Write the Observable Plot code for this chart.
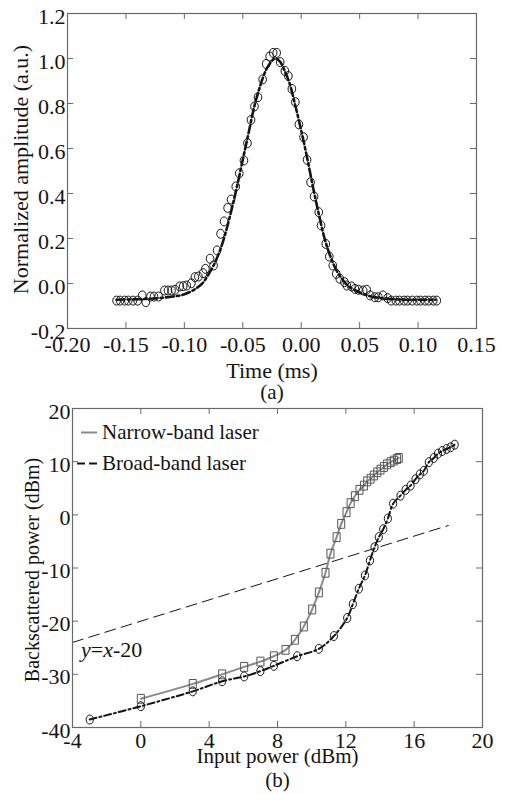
<!DOCTYPE html>
<html><head><meta charset="utf-8">
<script src="https://cdn.jsdelivr.net/npm/d3@7"></script>
<script src="https://cdn.jsdelivr.net/npm/@observablehq/plot@0.6"></script>
<style>
html,body{margin:0;padding:0;background:#fff;}
#chart{width:505px;height:794px;overflow:hidden;background:#fff;}
#chart svg{display:block;font-family:'Liberation Serif','Times New Roman',serif !important;font-size:22px !important;}
</style></head><body><div id="chart"></div>
<script>
// ---------- Panel (a) data ----------
const pulseTime = [-0.158,-0.155,-0.151,-0.148,-0.144,-0.140,-0.136,-0.133,-0.129,-0.126,-0.122,-0.117,-0.114,-0.111,-0.108,-0.104,-0.101,-0.098,-0.094,-0.091,-0.088,-0.084,-0.082,-0.078,-0.075,-0.072,-0.069,-0.066,-0.063,-0.060,-0.056,-0.053,-0.049,-0.046,-0.043,-0.040,-0.037,-0.033,-0.030,-0.027,-0.024,-0.021,-0.018,-0.014,-0.011,-0.008,-0.005,-0.002,0.002,0.005,0.008,0.011,0.015,0.017,0.021,0.024,0.027,0.030,0.033,0.037,0.039,0.043,0.046,0.049,0.053,0.056,0.059,0.063,0.066,0.070,0.074,0.077,0.081,0.084,0.088,0.091,0.095,0.099,0.102,0.106,0.109,0.113,0.116];
const pulseAmp = [-0.076,-0.076,-0.076,-0.076,-0.076,-0.076,-0.053,-0.083,-0.058,-0.058,-0.058,-0.031,-0.031,-0.031,-0.028,-0.013,-0.012,-0.009,0.001,0.028,0.031,0.046,0.065,0.110,0.080,0.147,0.221,0.276,0.336,0.373,0.431,0.490,0.547,0.624,0.727,0.787,0.828,0.907,0.976,1.009,1.025,1.025,0.984,0.945,0.922,0.865,0.806,0.707,0.650,0.550,0.450,0.387,0.317,0.258,0.176,0.120,0.080,0.043,0.021,0.006,-0.009,-0.013,-0.024,-0.028,-0.031,-0.028,-0.053,-0.061,-0.061,-0.053,-0.065,-0.076,-0.076,-0.076,-0.076,-0.076,-0.076,-0.076,-0.076,-0.076,-0.076,-0.076,-0.076];
const fitTime = [-0.158,-0.14,-0.13,-0.12,-0.11,-0.10,-0.09,-0.085,-0.08,-0.075,-0.07,-0.065,-0.06,-0.055,-0.05,-0.045,-0.04,-0.035,-0.03,-0.025,-0.022,-0.018,-0.015,-0.01,-0.005,0,0.005,0.01,0.015,0.02,0.025,0.03,0.035,0.04,0.05,0.06,0.07,0.08,0.09,0.10,0.115];
const fitAmp = [-0.072,-0.070,-0.068,-0.064,-0.058,-0.048,-0.022,-0.002,0.035,0.080,0.140,0.22,0.32,0.43,0.55,0.67,0.79,0.88,0.95,0.99,1.0,0.985,0.955,0.89,0.79,0.68,0.56,0.43,0.31,0.20,0.12,0.06,0.02,-0.01,-0.04,-0.058,-0.066,-0.07,-0.072,-0.072,-0.072];
const xTicksA = [-0.20,-0.15,-0.10,-0.05,0.00,0.05,0.10,0.15];
const yTicksA = [-0.2,0.0,0.2,0.4,0.6,0.8,1.0,1.2];

// ---------- Panel (b) data ----------
const narrowIn = [0,3.04,4.76,6.05,7.0,7.79,8.47,9.02,9.54,10.03,10.42,10.81,11.1,11.46,11.73,12.04,12.28,12.53,12.8,13.06,13.25,13.45,13.64,13.84,14.03,14.23,14.42,14.62,14.81,15.0,15.1];
const narrowOut = [-34.6,-31.8,-30.0,-28.6,-27.6,-26.6,-25.4,-23.5,-21.0,-17.8,-14.6,-10.9,-7.3,-4.2,-1.7,0.5,2.2,3.5,4.7,5.5,6.3,6.8,7.4,8.0,8.5,9.0,9.5,9.9,10.2,10.5,10.7];
const broadIn = [-2.99,0,3.04,4.76,6.05,7.0,7.79,9.15,10.42,11.3,12.08,12.41,12.76,13.12,13.41,13.68,13.93,14.19,14.46,14.77,15.2,15.5,15.79,16.08,16.33,16.57,16.86,17.15,17.39,17.64,17.9,18.13,18.37];
const broadOut = [-38.5,-36.0,-33.2,-31.3,-30.4,-29.4,-28.4,-26.6,-25.2,-22.8,-19.4,-16.8,-13.9,-11.4,-8.6,-6.1,-4.2,-2.7,-0.7,2.1,3.6,4.7,5.5,6.7,7.6,8.3,9.9,10.7,11.5,12.0,12.4,12.7,13.2];
const refIn = [-4, 18];
const refOut = [-24, -2];
const xTicksB = [-4,0,4,8,12,16,20];
const yTicksB = [-40,-30,-20,-10,0,10,20];
const legendLabels = ["Narrow-band laser", "Broad-band laser"];
const refLabel = ["y", "=", "x", "-20"];

// ---------- helpers ----------
const FONT = "'Liberation Serif', 'Times New Roman', serif";
const AXIS = "#6a6a6a";
const INK = "#141414";
const NARROW = "#8a8a8a";

const ellipse = (kx, ky) => ({draw(ctx, size) {
  const r = Math.sqrt(size / Math.PI), rx = r * kx, ry = r * ky, k = 0.5523;
  ctx.moveTo(rx, 0);
  ctx.bezierCurveTo(rx, ry * k, rx * k, ry, 0, ry);
  ctx.bezierCurveTo(-rx * k, ry, -rx, ry * k, -rx, 0);
  ctx.bezierCurveTo(-rx, -ry * k, -rx * k, -ry, 0, -ry);
  ctx.bezierCurveTo(rx * k, -ry, rx, -ry * k, rx, 0);
  ctx.closePath();
}});
const rectSym = (kx, ky) => ({draw(ctx, size) {
  const r = Math.sqrt(size / Math.PI), w = r * kx, h = r * ky;
  ctx.rect(-w, -h, 2 * w, 2 * h);
}});

function frameTicks(xt, yt, W, H, len) {
  return [
    Plot.ruleX(xt, {x: d => d, insetTop: H - len, stroke: AXIS}),
    Plot.ruleX(xt, {x: d => d, insetBottom: H - len, stroke: AXIS}),
    Plot.ruleY(yt, {y: d => d, insetRight: W - len, stroke: AXIS}),
    Plot.ruleY(yt, {y: d => d, insetLeft: W - len, stroke: AXIS}),
    Plot.frame({stroke: AXIS, strokeWidth: 1.2})
  ];
}

const style = {fontFamily: FONT, fontSize: "22px", color: INK, background: "white", overflow: "visible"};
const T = {fontFamily: FONT, fill: INK, textAnchor: "middle", lineAnchor: "middle"};

// ---------- Panel (a) ----------
const pulse = pulseTime.map((t, i) => ({t, a: pulseAmp[i]}));
const fit = fitTime.map((t, i) => ({t, a: fitAmp[i]}));
const mlA = 67, mrA = 29, mtA = 13, mbA = 72, HA = 400;
const plotA = Plot.plot({
  width: 505, height: HA,
  marginLeft: mlA, marginRight: mrA, marginTop: mtA, marginBottom: mbA,
  style,
  x: {domain: [-0.2, 0.15], axis: null},
  y: {domain: [-0.2, 1.2], axis: null},
  marks: [
    Plot.line(fit, {x: "t", y: "a", stroke: INK, strokeWidth: 2.6, strokeDasharray: "8,3,2.5,3", curve: "catmull-rom"}),
    Plot.dot(pulse, {x: "t", y: "a", r: 4.5, symbol: ellipse(0.85, 1.0), stroke: INK, strokeWidth: 1, fill: "none"}),
    ...frameTicks(xTicksA, yTicksA, 505 - mlA - mrA, HA - mtA - mbA, 6),
    Plot.axisX(xTicksA, {tickSize: 0, tickPadding: 7.5, tickFormat: d => d.toFixed(2), label: null, fill: INK, fontFamily: FONT, fontSize: 22}),
    Plot.axisY(yTicksA, {tickSize: 0, tickPadding: 2, dy: 3, tickFormat: d => d.toFixed(1), label: null, fill: INK, fontFamily: FONT, fontSize: 22}),
    Plot.text(["Time (ms)"], {...T, text: d => d, frameAnchor: "bottom", dy: 42, fontSize: 22}),
    Plot.text(["(a)"], {...T, text: d => d, frameAnchor: "bottom", dy: 64, fontSize: 21}),
    Plot.text(["Normalized amplitude (a.u.)"], {...T, text: d => d, frameAnchor: "left", rotate: -90, dx: -47, dy: -1.5, fontSize: 22})
  ]
});

// ---------- Panel (b) ----------
const narrow = narrowIn.map((x, i) => ({x, y: narrowOut[i]}));
const broad = broadIn.map((x, i) => ({x, y: broadOut[i]}));
const ref = refIn.map((x, i) => ({x, y: refOut[i]}));
const mlB = 72, mrB = 23, mtB = 8, mbB = 67, HB = 394;

function legendMark() {
  const g = d3.create("svg:g").attr("font-family", FONT).attr("fill", INK).attr("text-anchor", "start");
  const x0 = mlB, y0 = mtB;
  const rows = [
    {label: legendLabels[0], cy: y0 + 24.5, stroke: NARROW, dash: null, w: 2, x1: 9},
    {label: legendLabels[1], cy: y0 + 55.5, stroke: INK, dash: "8,4", w: 2, x1: 5}
  ];
  for (const r of rows) {
    g.append("line").attr("x1", x0 + r.x1).attr("x2", x0 + 25).attr("y1", r.cy).attr("y2", r.cy)
      .attr("stroke", r.stroke).attr("stroke-width", r.w).attr("stroke-dasharray", r.dash);
    g.append("text").attr("x", x0 + 30).attr("y", r.cy).attr("dy", "0.32em")
      .attr("font-size", 21).text(r.label);
  }
  const t = g.append("text").attr("x", x0 + 9).attr("y", y0 + 248.5).attr("font-size", 22);
  t.append("tspan").attr("font-style", "italic").text(refLabel[0]);
  t.append("tspan").text(refLabel[1]);
  t.append("tspan").attr("font-style", "italic").text(refLabel[2]);
  t.append("tspan").text(refLabel[3]);
  return g.node();
}

const plotB = Plot.plot({
  width: 505, height: HB,
  marginLeft: mlB, marginRight: mrB, marginTop: mtB, marginBottom: mbB,
  style,
  x: {domain: [-4, 20], axis: null},
  y: {domain: [-40, 20], axis: null},
  marks: [
    Plot.line(ref, {x: "x", y: "y", stroke: INK, strokeWidth: 1, strokeDasharray: "11,6"}),
    Plot.line(narrow, {x: "x", y: "y", stroke: NARROW, strokeWidth: 2, curve: "catmull-rom"}),
    Plot.line(broad, {x: "x", y: "y", stroke: INK, strokeWidth: 2, strokeDasharray: "7,3,2,3", curve: "catmull-rom"}),
    Plot.dot(narrow, {x: "x", y: "y", r: 4.5, symbol: rectSym(0.78, 0.98), stroke: "#555", strokeWidth: 1, fill: "none"}),
    Plot.dot(broad, {x: "x", y: "y", r: 4.5, symbol: ellipse(0.8, 1.0), stroke: INK, strokeWidth: 1, fill: "none"}),
    ...frameTicks(xTicksB, yTicksB, 505 - mlB - mrB, HB - mtB - mbB, 6),
    Plot.axisX(xTicksB, {tickSize: 0, tickPadding: 4.5, tickFormat: d => String(d), label: null, fill: INK, fontFamily: FONT, fontSize: 22}),
    Plot.axisY(yTicksB, {tickSize: 0, tickPadding: 2, dy: 3, tickFormat: d => String(d), label: null, fill: INK, fontFamily: FONT, fontSize: 22}),
    Plot.text(["Input power (dBm)"], {...T, text: d => d, frameAnchor: "bottom", dy: 29, fontSize: 21}),
    Plot.text(["(b)"], {...T, text: d => d, frameAnchor: "bottom", dy: 53, fontSize: 21}),
    Plot.text(["Backscattered power (dBm)"], {...T, text: d => d, frameAnchor: "left", rotate: -90, dx: -39.5, dy: 2, fontSize: 20}),
    legendMark
  ]
});

const root = document.getElementById("chart");
root.append(plotA, plotB);
</script></body></html>
